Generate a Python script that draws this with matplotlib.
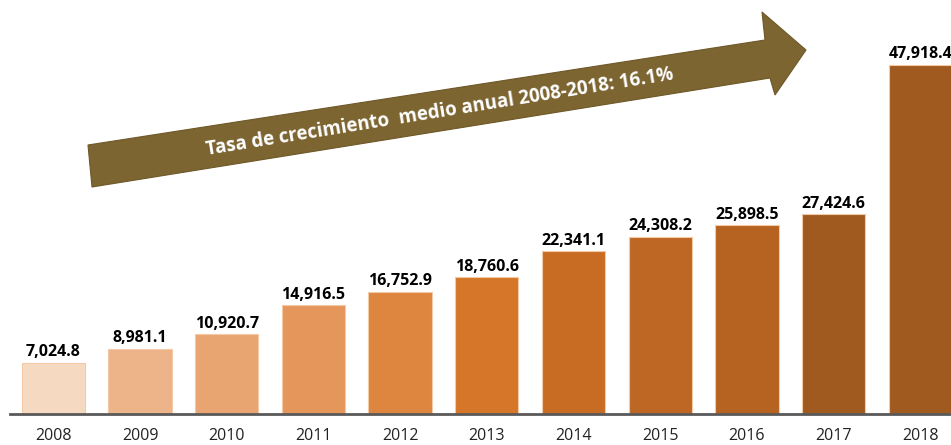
import matplotlib.pyplot as plt
from matplotlib.patches import Polygon

# data
years = ['2008', '2009', '2010', '2011', '2012', '2013',
         '2014', '2015', '2016', '2017', '2018']
values = [7024.8, 8981.1, 10920.7, 14916.5, 16752.9, 18760.6,
          22341.1, 24308.2, 25898.5, 27424.6, 47918.4]
bar_colors = ['#F5D9C1', '#EDB48A', '#E8A572', '#E4965B', '#DE853F', '#D57628',
              '#C86C23', '#BE6725', '#B66322', '#A05A1F', '#A05A1F']
arrow_text = 'Tasa de crecimiento  medio anual 2008-2018: 16.1%'

W, H = 951, 445
fig = plt.figure(figsize=(W / 100, H / 100), dpi=100)
ax = fig.add_axes([10 / W, 31 / H, 941 / W, 414 / H])

x = range(len(years))
bars = ax.bar(x, values, width=0.73, color=bar_colors,
              edgecolor='#F3C9A6', linewidth=0.8)

for b, v in zip(bars, values):
    ax.annotate(f'{v:,.1f}', (b.get_x() + b.get_width() / 2, v),
                xytext=(0, 2), textcoords='offset points',
                ha='center', va='bottom', fontsize=11.5, fontweight='bold',
                family='Open Sans', color='black')

ax.set_xlim(-0.5, 10.354)
ax.set_ylim(0, 56870)
ax.set_xticks(list(x))
ax.set_xticklabels(years, fontsize=11.5, family='Open Sans', color='#222222')
ax.set_yticks([])
ax.tick_params(axis='x', length=0, pad=10)
for s in ['top', 'left', 'right']:
    ax.spines[s].set_visible(False)
ax.spines['bottom'].set_color('#595959')
ax.spines['bottom'].set_linewidth(2)

# growth arrow, drawn in figure pixel coordinates (y measured from top)
pts = [(88, 145), (765, 40), (762, 12), (806, 50), (775, 95), (770, 78), (92, 187)]
pts = [(px / W, 1 - py / H) for px, py in pts]
fig.patches.append(Polygon(pts, closed=True, transform=fig.transFigure,
                           facecolor='#7D6532', edgecolor='#6E5828', linewidth=0.8))
fig.text(440 / W, 1 - 112 / H, arrow_text, rotation=9.2, rotation_mode='anchor',
         ha='center', va='center', fontsize=13.5, fontweight='bold',
         family='Open Sans', color='white')

fig.savefig('out.png', dpi=100)
